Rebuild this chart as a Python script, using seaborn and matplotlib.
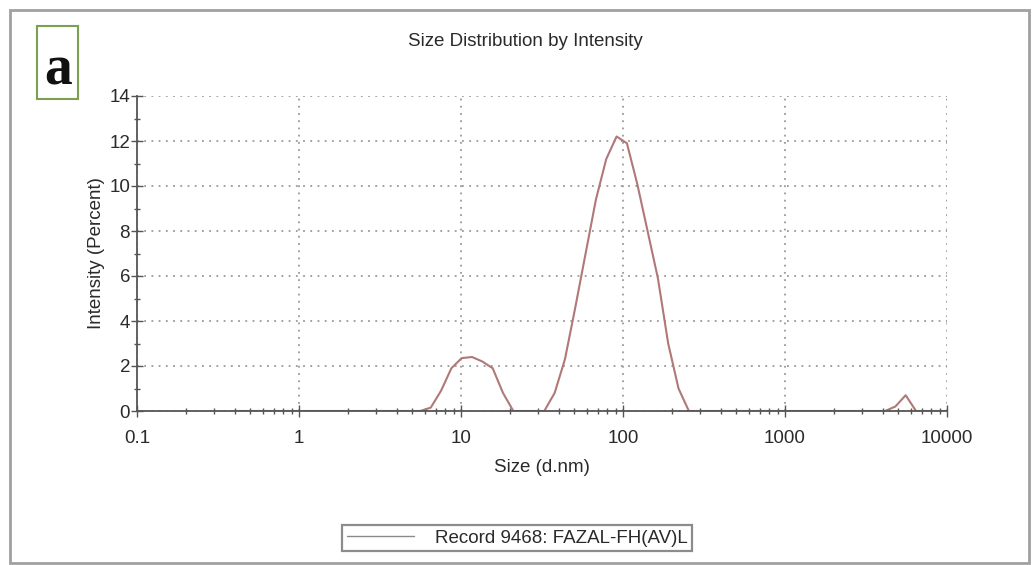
import matplotlib
matplotlib.use("Agg")
import matplotlib.pyplot as plt
import seaborn as sns
import pandas as pd
from matplotlib.patches import Rectangle
from matplotlib.ticker import LogLocator, FixedLocator, NullFormatter

sizes_nm = [0.4, 0.4632, 0.5365, 0.6213, 0.7195, 0.8332, 0.9649, 1.117, 1.294, 1.499,
            1.736, 2.010, 2.328, 2.696, 3.122, 3.615, 4.187, 4.849, 5.615, 6.503,
            7.531, 8.721, 10.10, 11.70, 13.54, 15.69, 18.17, 21.04, 24.36, 28.21,
            32.67, 37.84, 43.82, 50.75, 58.77, 68.06, 78.82, 91.28, 105.7, 122.4,
            141.8, 164.2, 190.1, 220.2, 255.0, 295.3, 342.0, 396.1, 458.7, 531.2,
            615.1, 712.4, 825.0, 955.4, 1106, 1281, 1484, 1718, 1990, 2305,
            2669, 3091, 3580, 4145, 4801, 5560, 6439, 7456, 8635, 10000]
intensity_pct = [0, 0, 0, 0, 0, 0, 0, 0, 0, 0,
                 0, 0, 0, 0, 0, 0, 0, 0, 0, 0.15,
                 0.9, 1.9, 2.35, 2.4, 2.2, 1.9, 0.8, 0, 0, 0,
                 0, 0.8, 2.3, 4.6, 7.0, 9.4, 11.2, 12.2, 11.9, 10.1,
                 8.0, 5.9, 3.0, 1.0, 0, 0, 0, 0, 0, 0,
                 0, 0, 0, 0, 0, 0, 0, 0, 0, 0,
                 0, 0, 0, 0, 0.2, 0.7, 0, 0, 0, 0]
series_label = "Record 9468: FAZAL-FH(AV)L"
x_ticks = [0.1, 1, 10, 100, 1000, 10000]
x_tick_labels = ["0.1", "1", "10", "100", "1000", "10000"]
y_ticks = [0, 2, 4, 6, 8, 10, 12, 14]

sns.set_theme(style="white")
plt.rcParams["font.family"] = ["Liberation Sans", "DejaVu Sans"]

FS = 13.5
TXT = "#2a2a2a"

df = pd.DataFrame({"size": sizes_nm, "intensity": intensity_pct})

fig = plt.figure(figsize=(10.34, 5.65), dpi=100)
ax = fig.add_axes([137/1034, 1 - 411/565, (947-137)/1034, (411-96)/565])

sns.lineplot(data=df, x="size", y="intensity", ax=ax, color="#b07878",
             linewidth=1.5, label=series_label, legend=False)
for ln in ax.get_lines():
    ln.set_solid_joinstyle("round")

ax.set_xscale("log")
ax.set_xlim(0.1, 10000)
ax.set_ylim(0, 14)
ax.set_xticks(x_ticks)
ax.set_xticklabels(x_tick_labels)
ax.xaxis.set_minor_locator(LogLocator(base=10, subs=range(2, 10), numticks=20))
ax.xaxis.set_minor_formatter(NullFormatter())
ax.set_yticks(y_ticks)
ax.yaxis.set_minor_locator(FixedLocator([1, 3, 5, 7, 9, 11, 13]))

ax.grid(True, which="major", color="#9a9a9a", linestyle=(0, (1, 3)), linewidth=1.3)
for s in ["top", "right"]:
    ax.spines[s].set_visible(False)
for s in ["left", "bottom"]:
    ax.spines[s].set_color("#555555")
    ax.spines[s].set_linewidth(1.3)

ax.tick_params(axis="both", which="major", direction="inout", length=8, width=1,
               color="#555555", labelsize=FS, labelcolor=TXT,
               left=True, bottom=True)
ax.tick_params(axis="x", which="major", pad=10)
ax.tick_params(axis="y", which="major", pad=1)
ax.tick_params(axis="both", which="minor", direction="inout", length=5, width=1,
               color="#555555", left=True, bottom=True)

ax.set_xlabel("Size (d.nm)", fontsize=FS, color=TXT, labelpad=8)
ax.set_ylabel("Intensity (Percent)", fontsize=FS, color=TXT, labelpad=3)
fig.text(525/1034, 1 - 41/565, "Size Distribution by Intensity", fontsize=FS,
         color=TXT, ha="center", va="center")

# legend
handles, labels = ax.get_legend_handles_labels()
leg = fig.legend(handles, labels, loc="center", bbox_to_anchor=(517/1034, 1 - 538/565),
                 frameon=True, fancybox=False, edgecolor="#707070", fontsize=FS,
                 handlelength=3.6, borderpad=0.25, handletextpad=1.1, borderaxespad=0)
leg.get_frame().set_linewidth(1.6)
for t in leg.get_texts():
    t.set_color(TXT)
for l in leg.get_lines():
    l.set_color("#8a8a8a")
    l.set_linewidth(1.0)

# outer frame
fig.patches.append(Rectangle((10/1034, 1 - 563/565), 1019/1034, 553/565,
                             transform=fig.transFigure, fill=False,
                             edgecolor="#a0a0a0", linewidth=2))

# panel label
fig.patches.append(Rectangle((37/1034, 1 - 99/565), 41/1034, 73/565,
                             transform=fig.transFigure, fill=False,
                             edgecolor="#7aa050", linewidth=1.5))
fig.text(58/1034, 1 - 84/565, "a", fontsize=40, fontweight="bold",
         family=["Liberation Serif", "DejaVu Serif"], ha="center", va="baseline",
         color="#111111")

fig.savefig("out.png", dpi=100)
